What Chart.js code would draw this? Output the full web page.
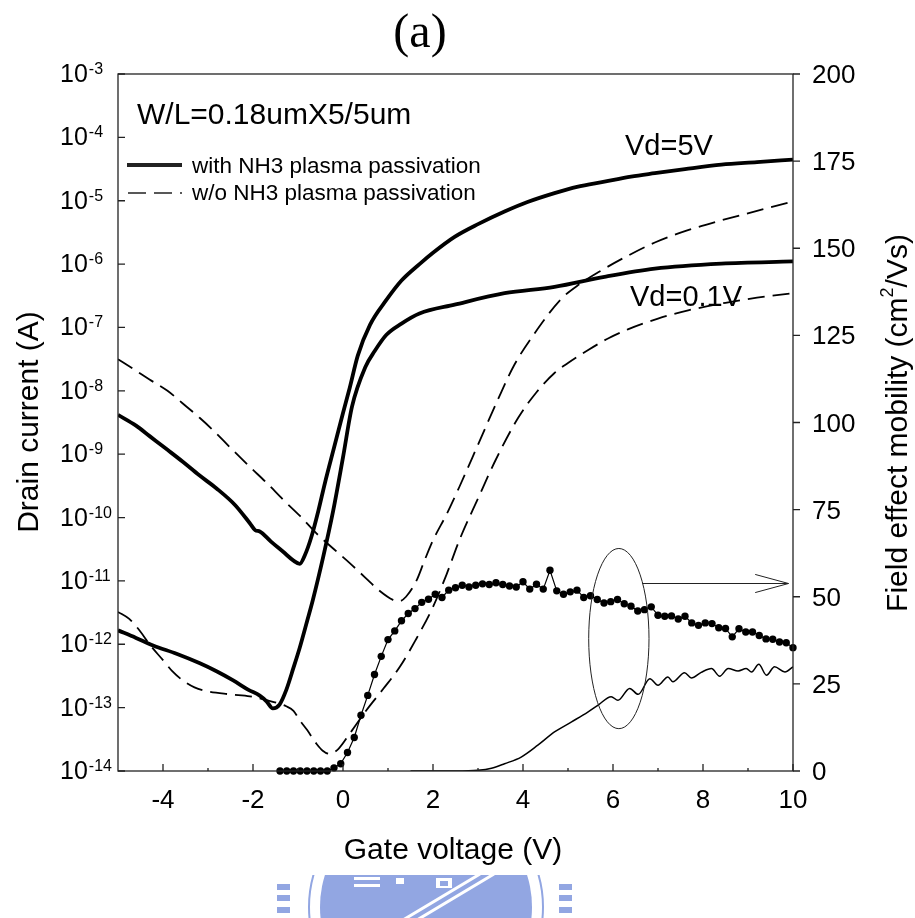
<!DOCTYPE html>
<html>
<head>
<meta charset="utf-8">
<script src="https://cdn.jsdelivr.net/npm/chart.js@4.4.0/dist/chart.umd.min.js"></script>
<style>
  html, body { margin: 0; padding: 0; background: #fff; }
  #wrap { width: 915px; height: 918px; }
</style>
</head>
<body>
<div id="wrap"><canvas id="ivChart" width="915" height="918"></canvas></div>
<script>
// axis ticks
const vgTicks = [-4, -2, 0, 2, 4, 6, 8, 10];
const vgMinorTicks = [-3, -1, 1, 3, 5, 7, 9];
const idExponents = [-3, -4, -5, -6, -7, -8, -9, -10, -11, -12, -13, -14];
const mobTicks = [0, 25, 50, 75, 100, 125, 150, 175, 200];

// with NH3 plasma passivation, Vd = 5V
const vgWith5V = [-5, -4.6, -4.29, -3.9, -3.56, -3.2, -2.81, -2.4, -2.07, -1.95, -1.85, -1.6, -1.33, -1.1, -0.96, -0.85, -0.7, -0.55, -0.4, -0.2, 0.0, 0.15, 0.33, 0.6, 0.96, 1.3, 1.7, 2.0, 2.48, 3.0, 3.59, 4.1, 4.7, 5.2, 5.81, 6.4, 6.93, 7.6, 8.41, 9.2, 10];
const idWith5V = [4.17e-9, 2.82e-9, 1.91e-9, 1.17e-9, 7.59e-10, 4.68e-10, 2.88e-10, 1.58e-10, 8.13e-11, 6.31e-11, 6.03e-11, 4.17e-11, 2.88e-11, 2.09e-11, 1.86e-11, 2.51e-11, 5.01e-11, 1.26e-10, 3.55e-10, 1.26e-9, 4.47e-9, 1.12e-8, 3.63e-8, 1.1e-7, 2.69e-7, 5.5e-7, 1.0e-6, 1.51e-6, 2.69e-6, 4.27e-6, 6.76e-6, 9.55e-6, 1.32e-5, 1.66e-5, 2.0e-5, 2.4e-5, 2.72e-5, 3.16e-5, 3.72e-5, 4.07e-5, 4.47e-5];

// with NH3 plasma passivation, Vd = 0.1V
const vgWith01V = [-5, -4.6, -4.22, -3.7, -3.18, -2.8, -2.44, -2.1, -1.85, -1.7, -1.56, -1.41, -1.26, -1.1, -0.96, -0.8, -0.67, -0.44, -0.22, 0.0, 0.2, 0.5, 0.7, 0.96, 1.3, 1.7, 2.48, 3.59, 4.7, 5.81, 6.93, 8.41, 10];
const idWith01V = [1.66e-12, 1.26e-12, 9.55e-13, 7.08e-13, 5.01e-13, 3.72e-13, 2.69e-13, 1.91e-13, 1.55e-13, 1.26e-13, 9.77e-14, 1.12e-13, 1.91e-13, 4.27e-13, 8.91e-13, 2.29e-12, 5.01e-12, 2.4e-11, 1.26e-10, 8.91e-10, 5.62e-9, 2.4e-8, 4.2e-8, 7.6e-8, 1.15e-7, 1.66e-7, 2.29e-7, 3.47e-7, 4.37e-7, 6.31e-7, 8.51e-7, 1.02e-6, 1.1e-6];

// w/o NH3 plasma passivation, Vd = 5V
const vgWo5V = [-5, -4.65, -4.3, -3.9, -3.56, -3.18, -2.89, -2.5, -2.07, -1.7, -1.33, -0.95, -0.59, -0.2, 0.15, 0.5, 0.8, 1.11, 1.25, 1.4, 1.63, 1.8, 2.0, 2.3, 2.59, 3.0, 3.44, 3.8, 4.26, 4.85, 5.25, 5.67, 6.3, 6.93, 7.6, 8.41, 9.2, 10];
const idWo5V = [3.16e-8, 2.19e-8, 1.51e-8, 1.0e-8, 6.31e-9, 3.72e-9, 2.4e-9, 1.26e-9, 6.31e-10, 3.55e-10, 1.91e-10, 1.05e-10, 5.62e-11, 3.16e-11, 1.91e-11, 1.12e-11, 7.08e-12, 5.01e-12, 4.79e-12, 5.62e-12, 1.0e-11, 2.0e-11, 4.37e-11, 1.12e-10, 3.09e-10, 1.41e-9, 7.24e-9, 2.51e-8, 8.13e-8, 2.82e-7, 4.79e-7, 7.41e-7, 1.32e-6, 2.19e-6, 3.31e-6, 4.9e-6, 6.92e-6, 9.77e-6];

// w/o NH3 plasma passivation, Vd = 0.1V
const vgWo01V = [-5, -4.75, -4.5, -4.3, -4.0, -3.8, -3.56, -3.3, -3.04, -2.5, -2.07, -1.6, -1.26, -1.1, -0.96, -0.8, -0.59, -0.45, -0.3, -0.1, 0.15, 0.52, 0.9, 1.26, 1.6, 2.0, 2.3, 2.59, 3.0, 3.4, 3.89, 4.3, 4.7, 5.0, 5.44, 5.9, 6.33, 7.0, 7.67, 8.5, 9.2, 10];
const idWo01V = [3.24e-12, 2.51e-12, 1.58e-12, 1.0e-12, 5.62e-13, 3.8e-13, 2.69e-13, 2.09e-13, 1.82e-13, 1.62e-13, 1.51e-13, 1.26e-13, 1.05e-13, 8.91e-14, 6.31e-14, 4.47e-14, 2.69e-14, 2.09e-14, 1.86e-14, 2.24e-14, 3.89e-14, 9.12e-14, 2.0e-13, 4.37e-13, 1.12e-12, 3.89e-12, 1.26e-11, 4.47e-11, 2.0e-10, 8.32e-10, 3.72e-9, 9.5e-9, 1.91e-8, 2.75e-8, 4.37e-8, 6.76e-8, 9.33e-8, 1.38e-7, 1.86e-7, 2.45e-7, 2.95e-7, 3.47e-7];

// field effect mobility, with NH3 (dots)
const vgMobWith = [-1.4, -1.25, -1.1, -0.95, -0.8, -0.65, -0.5, -0.35, -0.2, -0.05, 0.1, 0.25, 0.4, 0.55, 0.7, 0.85, 1.0, 1.15, 1.3, 1.45, 1.6, 1.75, 1.9, 2.05, 2.2, 2.35, 2.5, 2.65, 2.8, 2.95, 3.1, 3.25, 3.4, 3.55, 3.7, 3.85, 4.0, 4.15, 4.3, 4.45, 4.6, 4.75, 4.9, 5.05, 5.2, 5.35, 5.5, 5.65, 5.8, 5.95, 6.1, 6.25, 6.4, 6.55, 6.7, 6.85, 7.0, 7.15, 7.3, 7.45, 7.6, 7.75, 7.9, 8.05, 8.2, 8.35, 8.5, 8.65, 8.8, 8.95, 9.1, 9.25, 9.4, 9.55, 9.7, 9.85, 10.0];
const mobWith = [0, 0, 0, 0, 0, 0, 0, 0, 0.9, 2.1, 5.3, 9.6, 16, 21.7, 27.7, 32.9, 37.7, 40.2, 43.1, 45.2, 46.6, 48.4, 49.3, 50.7, 49.8, 51.9, 52.6, 53.3, 52.8, 53.3, 53.7, 53.5, 54.0, 53.5, 53.1, 52.8, 54.3, 52.2, 53.6, 52.2, 57.6, 51.7, 50.7, 51.4, 51.9, 49.8, 50.3, 49.2, 48.2, 48.6, 49.2, 48.0, 47.3, 45.9, 46.3, 47.1, 44.7, 44.4, 44.5, 43.6, 44.4, 42.5, 41.8, 42.5, 42.3, 41.1, 40.9, 38.5, 40.8, 39.9, 39.9, 38.9, 37.9, 37.8, 37.0, 36.8, 35.4];

// field effect mobility, w/o NH3 (thin line)
const vgMobWo = [1.5, 2.5, 3.0, 3.3, 3.59, 3.96, 4.33, 4.7, 5.08, 5.44, 5.67, 5.96, 6.11, 6.37, 6.56, 6.82, 7.0, 7.22, 7.33, 7.59, 7.74, 7.96, 8.19, 8.37, 8.56, 8.78, 8.96, 9.08, 9.24, 9.41, 9.59, 9.82, 10];
const mobWo = [0, 0, 0.2, 0.8, 2.1, 4.0, 7.4, 11.2, 14.1, 16.9, 18.9, 21.3, 20.3, 23.7, 22.0, 26.5, 24.6, 27.0, 25.6, 28.2, 26.7, 28.3, 29.4, 27.2, 29.4, 28.7, 29.4, 28.4, 30.6, 27.5, 29.9, 28.4, 29.9];

const SANS = '"Liberation Sans", Arial, Helvetica, sans-serif';
const SERIF = '"Liberation Serif", "Times New Roman", serif';

function pairs(xs, ys) {
    return xs.map((v, i) => ({ x: v, y: ys[i] }));
}

function curve(xs, ys, width, dash) {
    return {
        data: pairs(xs, ys),
        yAxisID: 'y',
        borderColor: '#000',
        borderWidth: width,
        borderDash: dash || [],
        pointRadius: 0,
        cubicInterpolationMode: 'monotone',
        fill: false
    };
}

// faded logo at the bottom of the page
function drawWatermark(ctx) {
    ctx.save();
    ctx.beginPath();
    ctx.rect(250, 875, 340, 43);
    ctx.clip();
    const blue = 'rgb(146,166,226)';
    ctx.fillStyle = blue;
    ctx.strokeStyle = blue;
    // side teeth
    [884, 895, 907].forEach(yy => {
        ctx.fillRect(277, yy, 13, 6);
        ctx.fillRect(559, yy, 13, 6);
    });
    // ring
    ctx.lineWidth = 2;
    ctx.beginPath();
    ctx.arc(426, 907, 117, 0, Math.PI * 2);
    ctx.stroke();
    // dome
    ctx.beginPath();
    ctx.arc(426, 907, 106, 0, Math.PI * 2);
    ctx.fill();
    // white details
    ctx.fillStyle = '#fff';
    ctx.fillRect(354, 877, 26, 3);
    ctx.fillRect(354, 884, 26, 3);
    ctx.fillRect(396, 878, 8, 6);
    ctx.fillRect(436, 878, 16, 10);
    ctx.fillStyle = blue;
    ctx.fillRect(440, 881, 8, 5);
    ctx.strokeStyle = '#fff';
    ctx.lineWidth = 3;
    ctx.beginPath();
    ctx.moveTo(403, 920); ctx.lineTo(480, 874);
    ctx.moveTo(417, 920); ctx.lineTo(494, 874);
    ctx.stroke();
    ctx.restore();
}

const decorations = {
    id: 'decorations',
    afterDatasetsDraw(chart) {
        const { ctx, chartArea: a, scales } = chart;
        const x = scales.x, y = scales.y, y2 = scales.y2;
        ctx.save();

        // frame + ticks
        ctx.strokeStyle = '#222';
        ctx.lineWidth = 1.3;
        ctx.strokeRect(a.left, a.top, a.right - a.left, a.bottom - a.top);
        ctx.beginPath();
        vgTicks.forEach(v => {
            const px = x.getPixelForValue(v);
            ctx.moveTo(px, a.bottom); ctx.lineTo(px, a.bottom - 7);
        });
        vgMinorTicks.forEach(v => {
            const px = x.getPixelForValue(v);
            ctx.moveTo(px, a.bottom); ctx.lineTo(px, a.bottom - 3);
        });
        idExponents.forEach(e => {
            const py = y.getPixelForValue(Math.pow(10, e));
            ctx.moveTo(a.left, py); ctx.lineTo(a.left + 7, py);
        });
        mobTicks.forEach(v => {
            const py = y2.getPixelForValue(v);
            ctx.moveTo(a.right, py); ctx.lineTo(a.right + 7, py);
        });
        ctx.stroke();

        // tick labels
        ctx.fillStyle = '#000';
        ctx.textBaseline = 'alphabetic';
        ctx.textAlign = 'center';
        ctx.font = '26px ' + SANS;
        vgTicks.forEach(v => {
            ctx.fillText(String(v), x.getPixelForValue(v), 808);
        });
        ctx.textAlign = 'left';
        mobTicks.forEach(v => {
            ctx.fillText(String(v), 812, y2.getPixelForValue(v) + 9);
        });
        idExponents.forEach(e => {
            const py = y.getPixelForValue(Math.pow(10, e));
            ctx.font = '25px ' + SANS;
            ctx.fillText('10', 60, py + 8);
            const w = ctx.measureText('10').width;
            ctx.font = '16px ' + SANS;
            ctx.fillText(String(e), 60 + w + 1, py);
        });

        // axis titles
        ctx.font = '30px ' + SANS;
        ctx.textAlign = 'center';
        ctx.fillText('Gate voltage (V)', 453, 859);

        ctx.save();
        ctx.translate(38, 422);
        ctx.rotate(-Math.PI / 2);
        ctx.fillText('Drain current (A)', 0, 0);
        ctx.restore();

        ctx.save();
        ctx.translate(907, 423);
        ctx.rotate(-Math.PI / 2);
        ctx.textAlign = 'left';
        const partA = 'Field effect mobility (cm', partB = '/Vs)';
        ctx.font = '30px ' + SANS;
        const wA = ctx.measureText(partA).width, wB = ctx.measureText(partB).width;
        ctx.font = '18px ' + SANS;
        const wS = ctx.measureText('2').width;
        let sx = -(wA + wS + wB) / 2;
        ctx.font = '30px ' + SANS;
        ctx.fillText(partA, sx, 0);
        ctx.font = '18px ' + SANS;
        ctx.fillText('2', sx + wA, -14);
        ctx.font = '30px ' + SANS;
        ctx.fillText(partB, sx + wA + wS, 0);
        ctx.restore();

        // panel title
        ctx.font = '48px ' + SERIF;
        ctx.textAlign = 'center';
        ctx.fillText('(a)', 420, 47);

        // device size + legend
        ctx.textAlign = 'left';
        ctx.font = '30px ' + SANS;
        ctx.fillText('W/L=0.18umX5/5um', 137, 124);
        ctx.font = '22.5px ' + SANS;
        ctx.fillText('with NH3 plasma passivation', 192, 173);
        ctx.fillText('w/o NH3 plasma passivation', 192, 200);
        ctx.beginPath();
        ctx.lineWidth = 4;
        ctx.moveTo(127, 165); ctx.lineTo(182, 165);
        ctx.stroke();
        ctx.beginPath();
        ctx.lineWidth = 1.5;
        ctx.setLineDash([18, 8]);
        ctx.moveTo(128, 193); ctx.lineTo(182, 193);
        ctx.stroke();
        ctx.setLineDash([]);

        // curve labels
        ctx.font = '29px ' + SANS;
        ctx.fillText('Vd=5V', 625, 155);
        ctx.fillText('Vd=0.1V', 630, 306);

        // ellipse around the mobility curves and arrow to right axis
        const cx = x.getPixelForValue(6.13), cy = y2.getPixelForValue(38);
        const rx = x.getPixelForValue(6.8) - cx, ry = cy - y2.getPixelForValue(63.85);
        ctx.lineWidth = 1;
        ctx.beginPath();
        ctx.ellipse(cx, cy, rx, ry, 0, 0, Math.PI * 2);
        ctx.stroke();
        const ay = y2.getPixelForValue(53.8);
        const ax0 = x.getPixelForValue(6.65), ax1 = x.getPixelForValue(9.9);
        const hx = x.getPixelForValue(9.16);
        ctx.beginPath();
        ctx.moveTo(ax0, ay); ctx.lineTo(ax1, ay);
        ctx.moveTo(hx, y2.getPixelForValue(56.4)); ctx.lineTo(ax1, ay); ctx.lineTo(hx, y2.getPixelForValue(51.2));
        ctx.stroke();

        ctx.restore();
        drawWatermark(ctx);
    }
};

new Chart(document.getElementById('ivChart'), {
    type: 'line',
    data: {
        datasets: [
            curve(vgWith5V, idWith5V, 3.8),
            curve(vgWith01V, idWith01V, 3.8),
            curve(vgWo5V, idWo5V, 1.8, [17, 8]),
            curve(vgWo01V, idWo01V, 1.8, [17, 8]),
            {
                data: pairs(vgMobWith, mobWith),
                yAxisID: 'y2',
                borderColor: '#000',
                borderWidth: 1.2,
                pointRadius: 3.7,
                pointBackgroundColor: '#000',
                pointBorderWidth: 0,
                tension: 0,
                clip: false
            },
            {
                data: pairs(vgMobWo, mobWo),
                yAxisID: 'y2',
                borderColor: '#000',
                borderWidth: 1.5,
                pointRadius: 0,
                cubicInterpolationMode: 'monotone'
            }
        ]
    },
    options: {
        responsive: false,
        animation: false,
        devicePixelRatio: 1,
        layout: { padding: { left: 118, right: 122, top: 74, bottom: 147 } },
        plugins: { legend: { display: false }, tooltip: { enabled: false } },
        scales: {
            x: { type: 'linear', min: -5, max: 10, display: false },
            y: { type: 'logarithmic', min: 1e-14, max: 1e-3, display: false },
            y2: { type: 'linear', position: 'right', min: 0, max: 200, display: false }
        }
    },
    plugins: [decorations]
});
</script>
</body>
</html>
